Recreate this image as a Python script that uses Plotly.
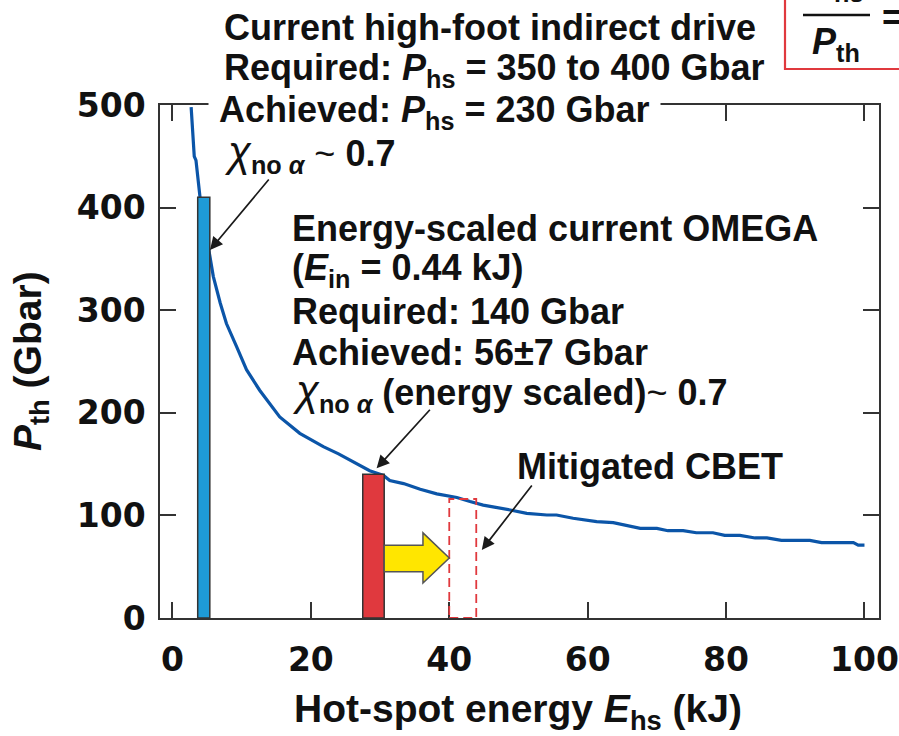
import plotly.graph_objects as go

# Threshold hot-spot pressure vs hot-spot energy
E_hs = [2.7, 2.9, 3.15, 3.4, 3.65, 4.0, 4.6, 5.3, 5.9, 6.9, 7.8, 9.3, 10.7, 12.6,
        15.5, 18.4, 21.8, 24.0, 26.1, 28.5, 30.5, 31.4, 33.4, 35.8, 38.2, 41.1,
        43.0, 44.9, 48.8, 51.2, 54.1, 55.5, 57.9, 61.3, 63.7, 67.6, 70.0, 71.6,
        73.8, 75.7, 78.1, 79.8, 82.0, 84.2, 85.9, 88.0, 92.1, 93.8, 98.4, 99.1, 100.0]
P_th = [498, 472, 450, 446, 430, 409, 385, 356, 333, 307, 287, 264, 242, 222,
        196, 180, 167, 160, 152, 143.5, 139, 134, 131, 125.5, 121, 117.5,
        113.5, 110, 105.3, 102, 100.4, 100.4, 97.2, 93.9, 92.9, 87.4, 87.4, 85.1,
        85.1, 83.1, 83.1, 80.6, 80.6, 78, 78, 75.7, 75.7, 73.4, 73.4, 71, 71]

x_ticks = [0, 20, 40, 60, 80, 100]
y_ticks = [0, 100, 200, 300, 400, 500]

# Bars: energy span (kJ) and pressure (Gbar)
nif_E = [3.65, 5.4]
nif_P = 410
omega_E = [27.5, 30.6]
omega_P = 140
cbet_E = [40.0, 43.9]
cbet_P = 116

# Yellow arrow (energy gain with mitigated CBET)
arrow_shaft_P = [45, 71]
arrow_head_P = [34, 83]
arrow_head_E = 36.2

W, H = 899, 736
L, R, T, B = 160, 20, 105, 118
PW, PH = W - L - R, H - T - B


def px(x):
    return (x - L) / PW


def py(y):
    return (H - B - y) / PH


FONT = "Liberation Sans, Arial, sans-serif"
INK = "#111111"

fig = go.Figure()
fig.add_trace(go.Scatter(x=E_hs, y=P_th, mode="lines",
                         line=dict(color="#0b55a8", width=3.2), hoverinfo="skip"))

shapes = []
# Blue and red bars
shapes.append(dict(type="rect", xref="x", yref="y", x0=nif_E[0], x1=nif_E[1], y0=0, y1=nif_P,
                   fillcolor="#1e9bd7", line=dict(color="#333333", width=1.5), layer="above"))
shapes.append(dict(type="rect", xref="x", yref="y", x0=omega_E[0], x1=omega_E[1], y0=0, y1=omega_P,
                   fillcolor="#e0393e", line=dict(color="#333333", width=1.5), layer="above"))
# Dashed mitigated-CBET box
shapes.append(dict(type="rect", xref="x", yref="y", x0=cbet_E[0], x1=cbet_E[1], y0=0, y1=cbet_P,
                   fillcolor="rgba(0,0,0,0)", line=dict(color="#e0393e", width=1.8, dash="9px,5px"),
                   layer="above"))
# Yellow block arrow
x0 = omega_E[1]
xt = cbet_E[0]
ym = (arrow_head_P[0] + arrow_head_P[1]) / 2
path = (f"M {x0},{arrow_shaft_P[0]} L {arrow_head_E},{arrow_shaft_P[0]} "
        f"L {arrow_head_E},{arrow_head_P[0]} L {xt},{ym} L {arrow_head_E},{arrow_head_P[1]} "
        f"L {arrow_head_E},{arrow_shaft_P[1]} L {x0},{arrow_shaft_P[1]} Z")
shapes.append(dict(type="path", xref="x", yref="y", path=path, fillcolor="#ffe600",
                   line=dict(color="#555555", width=1.5), layer="above"))

# Red-bordered formula box (top right, running off the page)
shapes.append(dict(type="rect", xref="paper", yref="paper", x0=px(785), x1=px(960),
                   y0=py(69), y1=py(-40), fillcolor="white",
                   line=dict(color="#e0393e", width=2.2), layer="above"))
shapes.append(dict(type="line", xref="paper", yref="paper", x0=px(803), x1=px(870),
                   y0=py(15), y1=py(15), line=dict(color="#111111", width=2.5), layer="above"))

annotations = []


def label(text, x, y, size=36, **kw):
    annotations.append(dict(text=text, xref="paper", yref="paper", x=px(x), y=py(y),
                            xanchor=kw.pop("xanchor", "left"), yanchor="middle",
                            showarrow=False, font=dict(family=FONT, size=size, color=INK), **kw))


chi = "<span style='font-size:42px'><i>χ</i></span><b><sub>no <i>α</i></sub></b>"

# Indirect-drive block
label("<b>Current high-foot indirect drive</b>", 222, 28)
label("<b>Required: <i>P</i><sub>hs</sub> = 350 to 400 Gbar</b>", 222, 70)
# white backing breaks the top frame behind this line
label("<b>&nbsp;Achieved: <i>P</i><sub>hs</sub> = 230 Gbar&nbsp;</b>", 208, 112,
      bgcolor="white", borderpad=0)
label(chi + " ~ <b>0.7</b>", 222, 153)

# OMEGA block
label("<b>Energy-scaled current OMEGA</b>", 290, 228)
label("<b>(<i>E</i><sub>in</sub> = 0.44 kJ)</b>", 290, 270)
label("<b>Required: 140 Gbar</b>", 290, 311)
label("<b>Achieved: 56±7 Gbar</b>", 290, 352)
label(chi + " <b>(energy scaled)</b>~ <b>0.7</b>", 290, 392)

label("<b>Mitigated CBET</b>", 515, 466)

# Formula box text
label("<b><i>P</i><sub>hs</sub></b>", 836, -16, xanchor="center")
label("<b><i>P</i><sub>th</sub></b>", 836, 44, xanchor="center")
label("<b>=</b>", 880, 17)

# Axis titles
label("<b>Hot-spot energy <i>E</i><sub>hs</sub> (kJ)</b>", 518, 712, size=39, xanchor="center")
annotations.append(dict(text="<b><i>P</i><sub>th</sub> (Gbar)</b>", xref="paper", yref="paper",
                        x=px(30), y=py(361), xanchor="center", yanchor="middle",
                        textangle=-90, showarrow=False,
                        font=dict(family=FONT, size=39, color=INK)))

# Pointer arrows
for tip, tail in [((5.42, 358.7), (14.1, 428.8)),
                  ((29.5, 145.9), (37.4, 204.4)),
                  ((44.7, 66.3), (52.1, 130.6))]:
    annotations.append(dict(x=tip[0], y=tip[1], ax=tail[0], ay=tail[1], xref="x", yref="y",
                            axref="x", ayref="y", text="", showarrow=True, arrowhead=2,
                            arrowsize=1.5, arrowwidth=1.7, arrowcolor="#1a1a1a"))

axis_common = dict(showline=True, mirror="ticks", linecolor="#333333", linewidth=1.5,
                   ticks="inside", ticklen=16, tickwidth=1.5, tickcolor="#333333",
                   showgrid=False, zeroline=False, automargin=False,
                   tickfont=dict(family="DejaVu Sans", size=33, color=INK, weight="bold"))

fig.update_layout(
    width=W, height=H, margin=dict(l=L, r=R, t=T, b=B, autoexpand=False),
    paper_bgcolor="white", plot_bgcolor="white", showlegend=False,
    xaxis=dict(range=[-1.8, 102.1], tickvals=x_ticks, ticklabelstandoff=12, **axis_common),
    yaxis=dict(range=[0, 500], tickvals=y_ticks, ticklabelstandoff=6, **axis_common),
    shapes=shapes, annotations=annotations,
)

fig.write_html("out.html")
